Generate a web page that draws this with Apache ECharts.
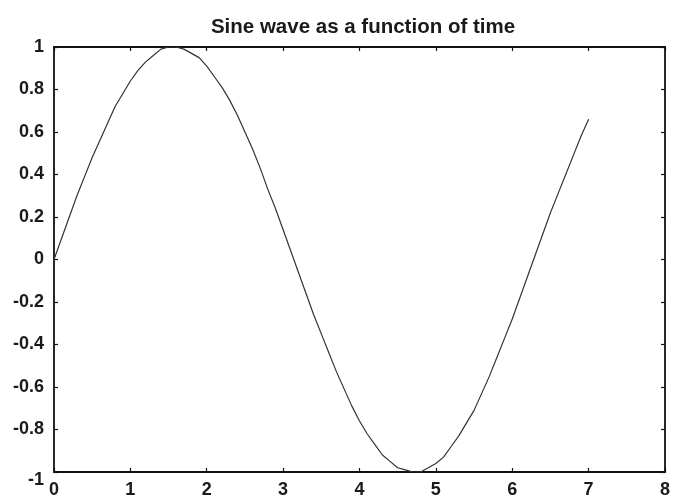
<!DOCTYPE html>
<html>
<head>
<meta charset="utf-8">
<script src="https://cdn.jsdelivr.net/npm/echarts@6/dist/echarts.min.js"></script>
<style>
  html, body { margin: 0; padding: 0; background: #fff; }
  #chart { width: 673px; height: 500px; }
</style>
</head>
<body>
<div id="chart"></div>
<script>
// Sampled time (s) and the sine amplitude at each sample
var time = [
  0.0, 0.1, 0.2, 0.3, 0.4, 0.5, 0.6, 0.7, 0.8, 0.9,
  1.0, 1.1, 1.2, 1.3, 1.4, 1.5, 1.6, 1.7, 1.8, 1.9,
  2.0, 2.1, 2.2, 2.3, 2.4, 2.5, 2.6, 2.7, 2.8, 2.9,
  3.0, 3.1, 3.2, 3.3, 3.4, 3.5, 3.6, 3.7, 3.8, 3.9,
  4.0, 4.1, 4.2, 4.3, 4.4, 4.5, 4.6, 4.7, 4.8, 4.9,
  5.0, 5.1, 5.2, 5.3, 5.4, 5.5, 5.6, 5.7, 5.8, 5.9,
  6.0, 6.1, 6.2, 6.3, 6.4, 6.5, 6.6, 6.7, 6.8, 6.9,
  7.0
];
var amplitude = [
  0.00, 0.10, 0.20, 0.30, 0.39, 0.48, 0.56, 0.64, 0.72, 0.78,
  0.84, 0.89, 0.93, 0.96, 0.99, 1.00, 1.00, 0.99, 0.97, 0.95,
  0.91, 0.86, 0.81, 0.75, 0.68, 0.60, 0.52, 0.43, 0.33, 0.24,
  0.14, 0.04, -0.06, -0.16, -0.26, -0.35, -0.44, -0.53, -0.61, -0.69,
  -0.76, -0.82, -0.87, -0.92, -0.95, -0.98, -0.99, -1.00, -1.00, -0.98,
  -0.96, -0.93, -0.88, -0.83, -0.77, -0.71, -0.63, -0.55, -0.46, -0.37,
  -0.28, -0.18, -0.08, 0.02, 0.12, 0.22, 0.31, 0.40, 0.49, 0.58,
  0.66
];
var titleText = 'Sine wave as a function of time';

var points = time.map(function (t, i) { return [t, amplitude[i]]; });

var FONT = 'Liberation Sans, Arial, sans-serif';
var labelFont = {
  color: '#1a1a1a',
  fontFamily: FONT,
  fontWeight: 'bold',
  fontSize: 18
};

function frameAxis(extra) {
  var base = {
    axisLine: { show: true, onZero: false, lineStyle: { color: '#111', width: 1.8 } },
    axisTick: { show: true, inside: true, length: 4, lineStyle: { color: '#111', width: 1.2 } },
    splitLine: { show: false }
  };
  return Object.assign(base, extra);
}

// y labels; the lowest one sits a little below its tick to clear the x-axis "0"
function yLabel(v) {
  var s = String(Math.round(v * 10) / 10);
  return v <= -1 ? '{low|' + s + '}' : s;
}

var chart = echarts.init(document.getElementById('chart'), null, { renderer: 'canvas' });
chart.setOption({
  backgroundColor: '#ffffff',
  animation: false,
  title: {
    text: titleText,
    left: 358,
    textAlign: 'center',
    top: 12,
    textStyle: {
      color: '#1a1a1a',
      fontFamily: FONT,
      fontWeight: 'bold',
      fontSize: 20.5
    }
  },
  grid: { left: 54, right: 4, top: 47, bottom: 28 },
  xAxis: [
    frameAxis({
      type: 'value', min: 0, max: 8, interval: 1, position: 'bottom',
      axisLabel: Object.assign({ margin: 9 }, labelFont)
    }),
    frameAxis({
      type: 'value', min: 0, max: 8, interval: 1, position: 'top',
      axisLabel: { show: false }
    })
  ],
  yAxis: [
    frameAxis({
      type: 'value', min: -1, max: 1, interval: 0.2, position: 'left',
      axisLabel: Object.assign({
        margin: 10,
        formatter: yLabel,
        rich: {
          low: {
            color: '#1a1a1a', fontFamily: FONT, fontWeight: 'bold', fontSize: 18,
            padding: [16, 0, 0, 0]
          }
        }
      }, labelFont)
    }),
    frameAxis({
      type: 'value', min: -1, max: 1, interval: 0.2, position: 'right',
      axisLabel: { show: false }
    })
  ],
  series: [{
    type: 'line',
    data: points,
    xAxisIndex: 0,
    yAxisIndex: 0,
    showSymbol: false,
    lineStyle: { color: '#333', width: 1.2 }
  }]
});
</script>
</body>
</html>
